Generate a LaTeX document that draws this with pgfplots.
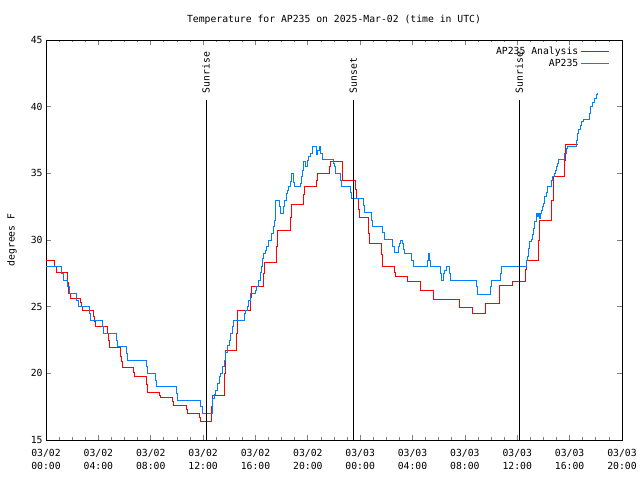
\documentclass[border=0pt]{standalone}
\usepackage{pgfplots}
\pgfplotsset{compat=1.18}
\usepackage{fontspec}
\setmainfont{DejaVu Sans Mono}
\definecolor{anared}{RGB}{255,0,0}
\definecolor{obsblue}{RGB}{0,128,255}
\begin{document}
\fontsize{9.8}{12.5}\selectfont
\begin{tikzpicture}
\path[use as bounding box] (0,0) rectangle (640bp,480bp);
\begin{axis}[
 at={(46bp,40bp)}, anchor=south west,
 scale only axis, width=576bp, height=400bp,
 xmin=0, xmax=44, ymin=15, ymax=45,
 xtick={0,4,...,44},
 xticklabels={{03/02\\00:00},{03/02\\04:00},{03/02\\08:00},{03/02\\12:00},{03/02\\16:00},{03/02\\20:00},{03/03\\00:00},{03/03\\04:00},{03/03\\08:00},{03/03\\12:00},{03/03\\16:00},{03/03\\20:00}},
 minor x tick num=3,
 ytick={15,20,...,45},
 tick align=inside,
 major tick length=5bp, minor tick length=2.5bp,
 xticklabel style={align=center, font=\fontsize{9.8}{12.5}\selectfont, yshift=-6bp},
 /pgf/number format/assume math mode=true,
 axis line style={line width=0.8pt},
 tick style={line width=0.8pt},
 legend style={draw=none, fill=none, at={(rel axis cs:0.983,0.9925)}, anchor=north east, row sep=-1pt},
 legend cell align=right,
 legend plot pos=right,
 legend image code/.code={\draw[#1, sharp plot] (0cm,0cm) -- (0.98cm,0cm);},
]
\addplot[const plot, color=anared, line width=0.9pt] coordinates {
(0,28.5)(0.65,28.0)(0.76,27.6)(1.64,26.8)(1.74,26.0)(1.84,25.6)(2.6,25.3)(2.71,25.0)(2.82,24.75)
(3.6,24.3)(3.7,23.9)(3.8,23.55)(4.69,23.0)(4.77,22.5)(4.85,21.95)(5.67,21.3)(5.75,20.9)(5.85,20.45)
(6.7,20.1)(6.78,19.8)(7.7,19.2)(7.78,18.55)(8.67,18.35)(8.75,18.2)(9.68,17.9)(9.75,17.6)
(10.7,17.3)(10.77,17.0)(11.7,16.7)(11.77,16.4)(12.65,17.5)(12.72,18.35)(13.6,20.0)(13.7,21.75)
(14.57,23.0)(14.65,24.75)(15.6,25.7)(15.7,26.5)(16.6,27.5)(16.7,28.3)(17.6,29.5)(17.68,30.7)
(18.7,31.7)(18.77,32.7)(19.67,33.4)(19.75,34.05)(20.65,34.5)(20.73,35.0)(21.65,35.5)(21.72,35.9)
(22.67,34.5)(23.6,33.8)(23.7,33.1)(23.85,32.3)(23.95,31.7)(24.6,30.5)(24.68,29.75)(25.6,28.9)
(25.68,28.05)(26.6,27.6)(26.68,27.3)(27.6,26.9)(28.6,26.25)(29.57,25.55)(31.6,24.95)(32.55,24.5)
(33.6,25.25)(34.62,26.6)(35.6,26.9)(36.6,27.8)(36.68,28.5)(37.62,30.0)(37.72,31.5)(38.64,33.0)
(38.73,34.75)(39.6,36.0)(39.69,37.2)(40.64,37.2)
};
\addlegendentry{AP235 Analysis}
\addplot[const plot, color=obsblue, line width=0.9pt] coordinates {
(0,28)(1.2,27.5)(1.3,27)(1.65,26.5)(1.8,26)(2.35,25.5)(2.45,25)(3.32,24.5)(3.42,24)(4.33,23.5)
(4.42,23)(5.35,22.5)(5.45,22)(6.16,21.5)(6.25,21)(7.7,20.5)(7.78,20)(8.33,19.5)(8.42,19)
(9.98,18.5)(10.07,18)(11.82,17.5)(11.92,17)(12.68,17.5)(12.75,18.1)(12.85,18.4)(12.97,18.75)
(13.1,19.25)(13.23,19.75)(13.35,20.0)(13.48,20.5)(13.6,21.0)(13.73,21.6)(13.85,22.1)(13.98,22.5)
(14.1,23.0)(14.22,23.5)(14.35,24.0)(15.15,24.5)(15.25,24.75)(15.4,25.05)(15.5,25.5)(15.58,26.0)
(15.97,26.25)(16.1,26.5)(16.22,27.0)(16.35,27.6)(16.48,28.0)(16.5,28.6)(16.6,29.0)(16.73,29.25)
(16.85,29.5)(16.98,30.0)(17.24,30.5)(17.36,31.0)(17.44,31.5)(17.5,32.2)(17.55,33.0)(17.8,32.5)
(17.9,32.0)(18.1,32.5)(18.2,33.0)(18.35,33.5)(18.45,33.75)(18.55,34.0)(18.65,34.4)(18.77,35.0)
(18.9,34.3)(18.98,34.0)(19.4,34.25)(19.5,34.75)(19.6,35.25)(19.7,35.9)(19.82,35.5)(19.95,36.0)
(20.07,36.25)(20.2,36.5)(20.32,37.0)(20.63,36.4)(20.75,36.75)(20.85,37.0)(20.95,36.5)(21.08,36.05)
(21.92,35.75)(22.0,35.5)(22.1,35.0)(22.46,34.5)(22.56,34.05)(23.22,33.6)(23.35,33.1)(24.24,32.6)
(24.35,32.05)(24.83,31.5)(24.92,31.05)(25.72,30.55)(25.83,30.05)(26.49,29.5)(26.58,29.05)
(26.91,29.5)(26.99,29.75)(27.1,30.0)(27.23,29.75)(27.33,29.3)(27.4,29.0)(27.94,28.5)(28.04,28.05)
(29.13,28.5)(29.2,29.0)(29.3,28.5)(29.38,28.05)(30.1,27.5)(30.2,27.0)(30.35,27.5)(30.45,27.75)
(30.56,28.0)(30.79,27.5)(30.87,27.0)(32.85,26.5)(32.93,25.95)(33.92,26.5)(34.02,27.0)(34.68,27.5)
(34.78,28.05)(36.72,28.5)(36.8,28.75)(36.88,29.4)(36.95,29.9)(37.05,30.05)(37.13,30.4)(37.23,30.9)
(37.33,31.4)(37.43,32.0)(37.51,31.75)(37.58,32.0)(37.71,31.6)(37.77,32.0)(37.84,32.25)(37.92,32.5)
(38.01,32.75)(38.1,33.25)(38.2,33.6)(38.27,34.05)(38.63,34.5)(38.72,34.75)(38.85,35.0)(38.93,35.25)
(39.03,35.5)(39.1,35.75)(39.18,36.05)(39.57,36.5)(39.78,36.9)(39.85,37.05)(40.49,37.5)(40.59,38.0)
(40.7,38.3)(40.8,38.6)(40.92,38.9)(41.05,39.05)(41.5,39.5)(41.61,40.0)(41.71,40.3)(41.86,40.6)
(42.02,40.9)(42.12,41.05)
};
\addlegendentry{AP235}
\draw[black, line width=0.8pt] (axis cs:12.22,15) -- (axis cs:12.22,40.5);
\draw[black, line width=0.8pt] (axis cs:23.47,15) -- (axis cs:23.47,40.5);
\draw[black, line width=0.8pt] (axis cs:36.15,15) -- (axis cs:36.15,40.5);
\node[rotate=90, anchor=west, inner sep=0pt] at (axis cs:12.22,41.0) {Sunrise};
\node[rotate=90, anchor=west, inner sep=0pt] at (axis cs:23.47,41.0) {Sunset};
\node[rotate=90, anchor=west, inner sep=0pt] at (axis cs:36.15,41.0) {Sunrise};
\end{axis}
\node at (334bp,460bp) {Temperature for AP235 on 2025-Mar-02 (time in UTC)};
\node[rotate=90] at (12bp,240bp) {degrees F};
\end{tikzpicture}
\end{document}
